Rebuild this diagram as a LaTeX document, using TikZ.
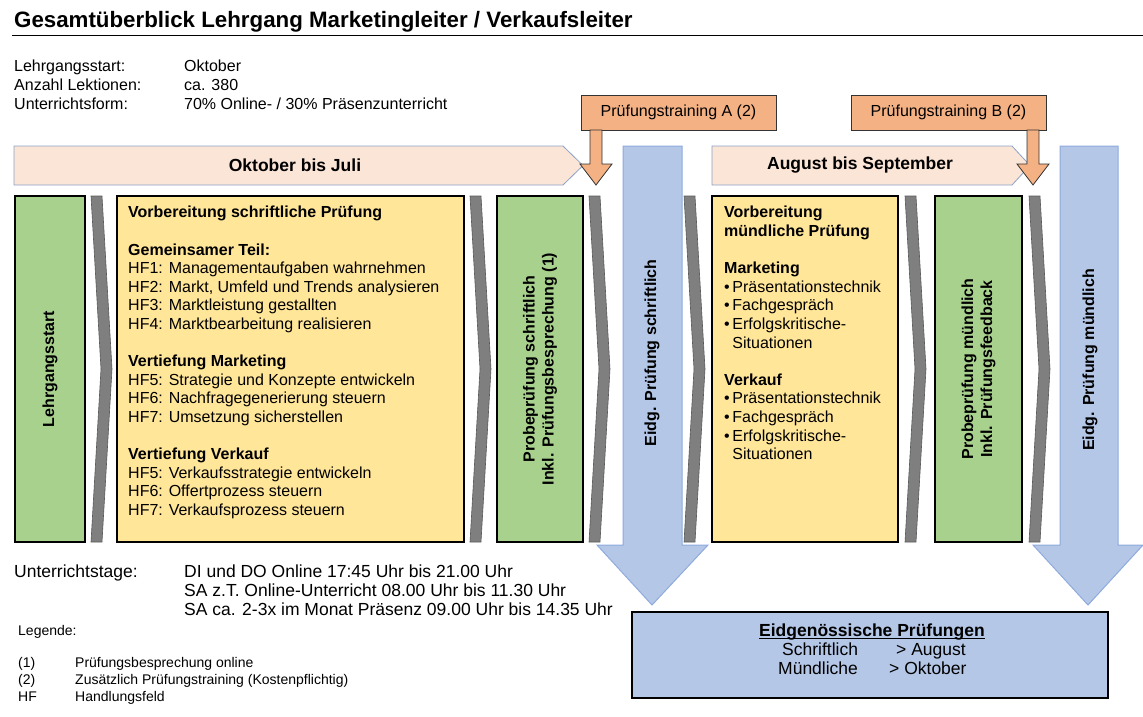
\documentclass[tikz,border=0pt]{standalone}
\usepackage{fontspec}
\setmainfont{Liberation Sans}
\usetikzlibrary{shapes.arrows}
\definecolor{grn}{HTML}{A9D18E}
\definecolor{yel}{HTML}{FFE699}
\definecolor{org}{HTML}{F4B183}
\definecolor{pnk}{HTML}{FBE5D6}
\definecolor{blu}{HTML}{B4C7E7}
\definecolor{blub}{HTML}{8FAADC}
\definecolor{gry}{HTML}{7F7F7F}
\tikzset{
  txt/.style={inner sep=0pt,font=\fontsize{16}{18.6}\selectfont,align=left},
  bigtxt/.style={inner sep=0pt,font=\fontsize{17.5}{19}\selectfont,align=left},
  sm/.style={inner sep=0pt,font=\fontsize{14}{17}\selectfont,align=left},
  boxx/.style={draw=black,line width=1.6pt},
  rot/.style={inner sep=0pt,rotate=90,font=\bfseries\fontsize{16}{19}\selectfont,align=center},
  chev/.style={fill=gry,draw=gry!70!black,line width=0.6pt},
  bigarrow/.style={fill=blu,draw=blub,line width=1pt},
  banner/.style={fill=pnk,draw=blub!80!gray,line width=0.8pt},
  bantxt/.style={font=\bfseries\fontsize{17.5}{20}\selectfont},
  trainbox/.style={fill=org,draw=black!80,line width=1pt,font=\fontsize{16}{18}\selectfont},
  smallarrow/.style={fill=org,draw=black!80,line width=0.8pt}
}
\newcommand{\bul}{\textbullet\,}
\begin{document}
\begin{tikzpicture}[x=1pt,y=-1pt]
\useasboundingbox (0,0) rectangle (1143,716);
\node[anchor=base west,inner sep=0pt,font=\bfseries\fontsize{22.3}{24}\selectfont] (title) at (14,27) {Gesamtüberblick Lehrgang Marketingleiter / Verkaufsleiter};
\draw[line width=0.8pt] (12,35) -- (1143,35);
\node[txt,anchor=north west] (lab) at (14,60) {Lehrgangsstart:\\Anzahl Lektionen:\\Unterrichtsform:};
\node[txt,anchor=north west] (val) at (184,60) {Oktober\\ca. 380\\70\% Online- / 30\% Präsenzunterricht};
% banners
\draw[banner] (14,146) -- (563,146) -- (583,165.5) -- (563,185) -- (14,185) -- cycle;
\node[bantxt] (b1) at (295,165.5) {Oktober bis Juli};
\draw[banner] (712,146) -- (1012,146) -- (1030,165.5) -- (1012,185) -- (712,185) -- cycle;
\node[bantxt] (b2) at (860,165.5) {August bis September};
% training boxes
\node[trainbox,minimum width=195pt,minimum height=35pt] (ta) at (678.5,112.5) {Prüfungstraining A (2)};
\node[trainbox,minimum width=195pt,minimum height=35pt] (tb) at (948.5,112.5) {Prüfungstraining B (2)};
\draw[smallarrow] (590,130) -- (602,130) -- (602,164) -- (612,164) -- (596,185) -- (580,164) -- (590,164) -- cycle;
\draw[smallarrow] (1027,130) -- (1039,130) -- (1039,164) -- (1049,164) -- (1033,185) -- (1017,164) -- (1027,164) -- cycle;
% big blue arrows
\draw[bigarrow] (623,146) -- (682,146) -- (682,545) -- (708,545) -- (652,605) -- (597,545) -- (623,545) -- cycle;
\draw[bigarrow] (1060,146) -- (1118,146) -- (1118,545) -- (1143,545) -- (1088,605) -- (1033,545) -- (1060,545) -- cycle;
\node[rot] (e1) at (652,353) {Eidg. Prüfung schriftlich};
\node[rot] (e2) at (1090,360) {Eidg. Prüfung mündlich};
% chevrons
\foreach \x in {91,470,589,684,905,1029}{
  \draw[chev] (\x,196) -- (\x+11,196) -- (\x+21,369) -- (\x+11,542) -- (\x,542) -- (\x+10,369) -- cycle;
}
% boxes
\node[boxx,fill=grn,minimum width=70pt,minimum height=346pt] (g1) at (50,369) {};
\node[rot] at (g1) {Lehrgangsstart};
\draw[boxx,fill=yel] (117,196) rectangle (464,542);
\node[txt,anchor=north west] (y1) at (128,206) {\textbf{Vorbereitung schriftliche Prüfung}\\[18.6pt]
\textbf{Gemeinsamer Teil:}\\HF1: Managementaufgaben wahrnehmen\\HF2: Markt, Umfeld und Trends analysieren\\HF3: Marktleistung gestallten\\HF4: Marktbearbeitung realisieren\\[18.6pt]
\textbf{Vertiefung Marketing}\\HF5: Strategie und Konzepte entwickeln\\HF6: Nachfragegenerierung steuern\\HF7: Umsetzung sicherstellen\\[18.6pt]
\textbf{Vertiefung Verkauf}\\HF5: Verkaufsstrategie entwickeln\\HF6: Offertprozess steuern\\HF7: Verkaufsprozess steuern};
\node[boxx,fill=grn,minimum width=86pt,minimum height=346pt] (g2) at (540,369) {};
\node[rot] at (g2) {Probeprüfung schriftlich\\Inkl. Prüfungsbesprechung (1)};
\draw[boxx,fill=yel] (712,196) rectangle (898,542);
\node[txt,anchor=north west] (y2) at (724,206) {\textbf{Vorbereitung}\\\textbf{mündliche Prüfung}\\[18.6pt]
\textbf{Marketing}\\\bul Präsentationstechnik\\\bul Fachgespräch\\\bul Erfolgskritische-\\\phantom{\bul}Situationen\\[18.6pt]
\textbf{Verkauf}\\\bul Präsentationstechnik\\\bul Fachgespräch\\\bul Erfolgskritische-\\\phantom{\bul}Situationen};
\node[boxx,fill=grn,minimum width=87pt,minimum height=346pt] (g3) at (978.5,369) {};
\node[rot] at (g3) {Probeprüfung mündlich\\Inkl. Prüfungsfeedback};
% bottom
\node[bigtxt,anchor=north west] (ut) at (14,565) {Unterrichtstage:};
\node[bigtxt,anchor=north west] (utv) at (184,565) {DI und DO Online 17:45 Uhr bis 21.00 Uhr\\SA z.T. Online-Unterricht 08.00 Uhr bis 11.30 Uhr\\SA ca. 2-3x im Monat Präsenz 09.00 Uhr bis 14.35 Uhr};
\node[sm,anchor=north west] (leg) at (18,625) {Legende:};
\node[sm,anchor=north west] (l1) at (18,657) {(1)\\(2)\\HF};
\node[sm,anchor=north west] (l2) at (75,657) {Prüfungsbesprechung online\\Zusätzlich Prüfungstraining (Kostenpflichtig)\\Handlungsfeld};
\draw[boxx,fill=blu] (632,612) rectangle (1108,698);
\node[inner sep=0pt,anchor=base,font=\bfseries\fontsize{17.5}{19}\selectfont] (eh) at (872,636) {Eidgenössische Prüfungen};
\draw[line width=1pt] ([yshift=-2]eh.base west) -- ([yshift=-2]eh.base east);
\node[bigtxt,anchor=north west] (ek) at (778,643) {\hspace*{4pt}Schriftlich\\Mündliche};
\node[bigtxt,anchor=north west] (ev) at (889,643) {\hspace*{7pt}> August\\> Oktober};
\end{tikzpicture}
\end{document}
